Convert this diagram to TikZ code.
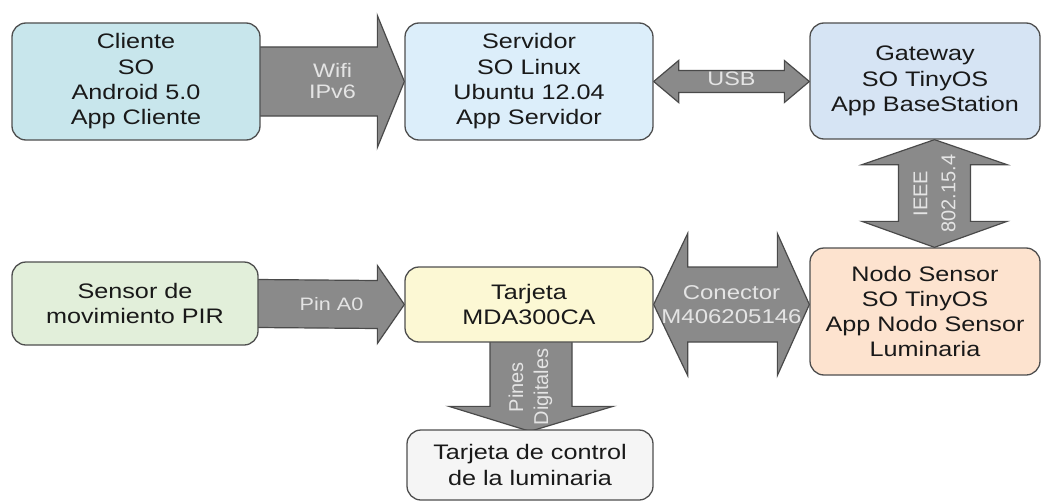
\documentclass[tikz,border=0pt]{standalone}
\usepackage{fontspec}
\setmainfont{Liberation Sans}[FakeStretch=1.2]
\newfontfamily\rotfont{Liberation Sans}
\usetikzlibrary{calc,backgrounds}
\definecolor{boxline}{HTML}{4E4E4E}
\definecolor{arrowfill}{HTML}{8A8A8A}
\definecolor{arrowline}{HTML}{4A4A4A}
\definecolor{labelgray}{HTML}{E4E4E4}
\definecolor{cCli}{HTML}{C8E6EC}
\definecolor{cSrv}{HTML}{DCEEFA}
\definecolor{cGw}{HTML}{D6E4F4}
\definecolor{cNodo}{HTML}{FDE3CF}
\definecolor{cPir}{HTML}{E2EFDA}
\definecolor{cTar}{HTML}{FCF8D4}
\definecolor{cCtl}{HTML}{F5F5F5}
\tikzset{
  box/.style={draw=boxline, line width=1.3pt, rounded corners=14pt, align=center,
    font=\fontsize{21}{25.3}\selectfont, text=black!90, inner sep=0pt},
  blockarrow/.style={fill=arrowfill, draw=arrowline, line width=1.2pt, line join=miter},
  lbl/.style={text=labelgray, align=center, font=\fontsize{19.5}{21}\selectfont, inner sep=0pt},
  rlbl/.style={text=labelgray, align=center, font=\rotfont\fontsize{20}{28}\selectfont, inner sep=0pt, rotate=90}
}
\begin{document}
\begin{tikzpicture}[x=1pt,y=-1pt]
\useasboundingbox (0,0) rectangle (1046,503);
% boxes
\node[box, fill=cCli, minimum width=248pt, minimum height=117pt] (cli) at (136,81.5) {Cliente\\SO\\Android 5.0\\App Cliente};
\node[box, fill=cSrv, minimum width=248pt, minimum height=117pt] (srv) at (529,81.5) {Servidor\\SO Linux\\Ubuntu 12.04\\App Servidor};
\node[box, fill=cGw, minimum width=230pt, minimum height=116pt] (gw) at (925,81) {Gateway\\SO TinyOS\\App BaseStation};
\node[box, fill=cPir, minimum width=246pt, minimum height=83pt] (pir) at (135,303.5) {Sensor de\\movimiento PIR};
\node[box, fill=cTar, minimum width=248pt, minimum height=75pt] (tar) at (529,304.5) {Tarjeta\\MDA300CA};
\node[box, fill=cNodo, minimum width=230pt, minimum height=127pt] (nodo) at (925,311.5) {Nodo Sensor\\SO TinyOS\\App Nodo Sensor\\Luminaria};
\node[box, fill=cCtl, minimum width=246pt, minimum height=70pt] (ctl) at (530,465) {Tarjeta de control\\de la luminaria};
\begin{pgfonlayer}{background}
% Wifi arrow
\coordinate (wA) at (cli.east);
\coordinate (wB) at (srv.west);
\draw[blockarrow] ($(wA)+(-2,-34.5)$) -- ($(wB)+(-27,-34.5)$) -- ($(wB)+(-27,-66)$) -- (wB)
  -- ($(wB)+(-27,66)$) -- ($(wB)+(-27,34.5)$) -- ($(wA)+(-2,34.5)$);
% USB arrow
\coordinate (uA) at (srv.east);
\coordinate (uB) at (gw.west |- srv.east);
\draw[blockarrow] (uA) -- ($(uA)+(25,-21)$) -- ($(uA)+(25,-11)$) -- ($(uB)+(-25,-11)$) -- ($(uB)+(-25,-21)$)
  -- (uB) -- ($(uB)+(-25,21)$) -- ($(uB)+(-25,11)$) -- ($(uA)+(25,11)$) -- ($(uA)+(25,21)$) -- cycle;
% IEEE arrow
\coordinate (iA) at ($(gw.south)+(9.5,0)$);
\coordinate (iB) at (iA |- nodo.north);
\draw[blockarrow] (iA) -- ($(iA)+(72.5,25)$) -- ($(iA)+(36,25)$) -- ($(iB)+(36,-26)$) -- ($(iB)+(72.5,-26)$)
  -- (iB) -- ($(iB)+(-72.5,-26)$) -- ($(iB)+(-36,-26)$) -- ($(iA)+(-36,25)$) -- ($(iA)+(-72.5,25)$) -- cycle;
% Pin A0 arrow
\coordinate (pA) at (pir.east);
\coordinate (pB) at (tar.west);
\draw[blockarrow] ($(pA)+(-2,-24)$) -- ($(pB)+(-27,-24)$) -- ($(pB)+(-27,-39)$) -- (pB)
  -- ($(pB)+(-27,39)$) -- ($(pB)+(-27,24)$) -- ($(pA)+(-2,24)$);
% Conector arrow
\coordinate (cA) at (tar.east);
\coordinate (cB) at (nodo.west |- tar.east);
\draw[blockarrow] (cA) -- ($(cA)+(34,-71)$) -- ($(cA)+(34,-37.5)$) -- ($(cB)+(-32,-37.5)$) -- ($(cB)+(-32,-71)$)
  -- (cB) -- ($(cB)+(-32,71)$) -- ($(cB)+(-32,37.5)$) -- ($(cA)+(34,37.5)$) -- ($(cA)+(34,71)$) -- cycle;
% Pines arrow
\coordinate (dA) at ($(tar.south)+(2,0)$);
\coordinate (dB) at ($(ctl.north)+(0,2)$);
\draw[blockarrow] ($(dA)+(-41,-2)$) -- ($(dA|-dB)+(-41,-25)$) -- ($(dA|-dB)+(-82,-25)$) -- (dB)
  -- ($(dA|-dB)+(82,-25)$) -- ($(dA|-dB)+(41,-25)$) -- ($(dA)+(41,-2)$);
\end{pgfonlayer}
% labels
\node[lbl] (lw) at ($(cli.east)!0.5!(srv.west)$) {Wifi\\IPv6};
\node[lbl] (lu) at ($(uA)!0.5!(uB)+(0,-3)$) {USB};
\node[rlbl] (li) at ($(iA)!0.5!(iB)$) {IEEE\\802.15.4};
\node[lbl, font=\fontsize{18}{21}\selectfont] (lp) at ($(pA)!0.5!(pB)$) {Pin A0};
\node[lbl, font=\fontsize{20}{24}\selectfont] (lc) at ($(cA)!0.5!(cB)$) {Conector\\M406205146};
\node[rlbl, font=\rotfont\fontsize{20}{25}\selectfont] (ld) at ($(dA)!0.5!(dB)$) {Pines\\Digitales};
\end{tikzpicture}
\end{document}
